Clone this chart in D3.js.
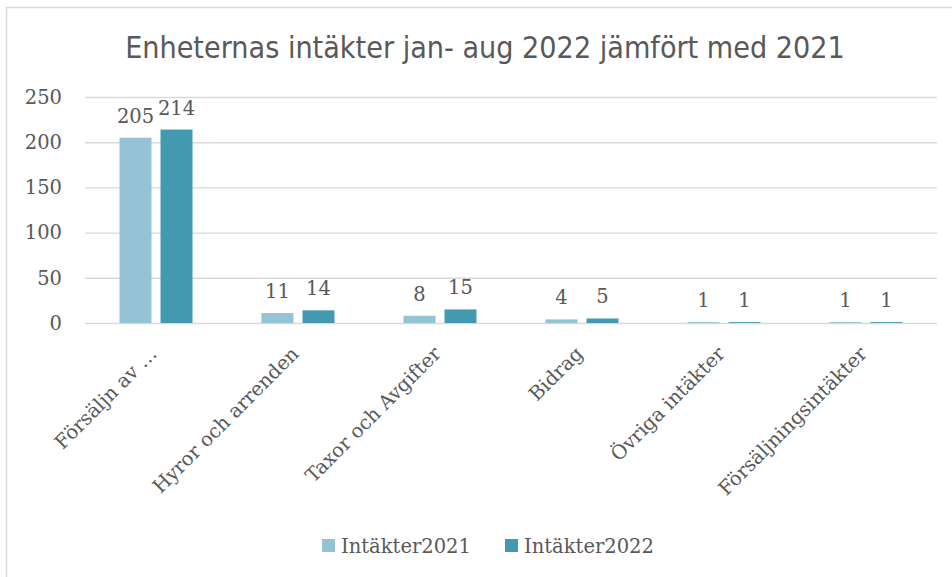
<!DOCTYPE html>
<html><head><meta charset="utf-8">
<script src="https://cdn.jsdelivr.net/npm/d3@7"></script>
<style>body{margin:0;background:#fff}svg{display:block}</style>
</head><body><svg id="c" width="952" height="577"></svg>
<script>
const title = "Enheternas intäkter jan- aug 2022 jämfört med 2021";
const categories = ["Försäljn av …","Hyror och arrenden","Taxor och Avgifter","Bidrag","Övriga intäkter","Försäljningsintäkter"];
const seriesNames = ["Intäkter2021","Intäkter2022"];
const values2021 = [205, 11, 8, 4, 1, 1];
const values2022 = [214, 14, 15, 5, 1, 1];
const yTicks = [0, 50, 100, 150, 200, 250];
const colors = ["#93C3D5", "#4399B0"];

const series = [values2021, values2022];
const svg = d3.select("#c");
const textCol = "#595959", gridCol = "#D9D9D9";
const serif = "'DejaVu Serif', serif";

svg.append("rect").attr("x",6.5).attr("y",7.5).attr("width",980).attr("height",620)
  .attr("fill","none").attr("stroke",gridCol).attr("stroke-width",1.5);

const t = svg.append("text").attr("x",485).attr("y",58).attr("text-anchor","middle")
  .attr("fill",textCol).style("font-family","'Liberation Sans Narrow','DejaVu Sans Condensed',sans-serif")
  .style("font-size","30px").text(title);
const tw = t.node().getComputedTextLength();
t.style("font-size", (30*720/tw).toFixed(2)+"px");

const y = d3.scaleLinear().domain([0,250]).range([323,97]);
const x0 = d3.scaleBand().domain(categories).range([85,937]).paddingInner(0.486).paddingOuter(0.243);
const x1 = d3.scaleBand().domain(seriesNames).range([0,x0.bandwidth()]).paddingInner(0.22);

// grid
const ya = svg.append("g").attr("transform","translate(85,0)")
  .call(d3.axisLeft(y).tickValues(yTicks).tickSize(-852).tickPadding(23));
ya.select(".domain").remove();
ya.selectAll(".tick line").attr("stroke",gridCol).attr("stroke-width",1.4);
ya.selectAll(".tick text").attr("fill",textCol).style("font-family",serif).style("font-size","19.5px");

// bars
const g = svg.append("g");
seriesNames.forEach((s,si)=>{
  g.selectAll(".b"+si).data(categories).join("rect")
    .attr("x",d=>x0(d)+x1(s)).attr("width",x1.bandwidth())
    .attr("y",(d,i)=>y(series[si][i])).attr("height",(d,i)=>y(0)-y(series[si][i]))
    .attr("fill",colors[si]);
  g.selectAll(".l"+si).data(categories).join("text")
    .attr("x",d=>x0(d)+x1(s)+x1.bandwidth()/2)
    .attr("y",(d,i)=>y(series[si][i])-15)
    .attr("text-anchor","middle").attr("fill",textCol)
    .style("font-family",serif).style("font-size","19.5px")
    .text((d,i)=>d3.format("d")(series[si][i]));
});

// x axis labels
const xa = svg.append("g").attr("transform","translate(0,323)")
  .call(d3.axisBottom(x0).tickSize(0).tickPadding(0));
xa.select(".domain").remove();
xa.selectAll(".tick text").attr("fill",textCol).style("font-family",serif).style("font-size","19.5px")
  .attr("text-anchor","end").attr("dy",0).attr("y",0)
  .attr("transform","translate(2,32) rotate(-45)");

// legend
const lg = svg.append("g");
const lx = [322, 505];
seriesNames.forEach((s,i)=>{
  lg.append("rect").attr("x",lx[i]).attr("y",539).attr("width",13).attr("height",13).attr("fill",colors[i]);
  lg.append("text").attr("x",lx[i]+19).attr("y",553).attr("fill",textCol)
    .style("font-family",serif).style("font-size","19.5px").text(s);
});
</script></body></html>
